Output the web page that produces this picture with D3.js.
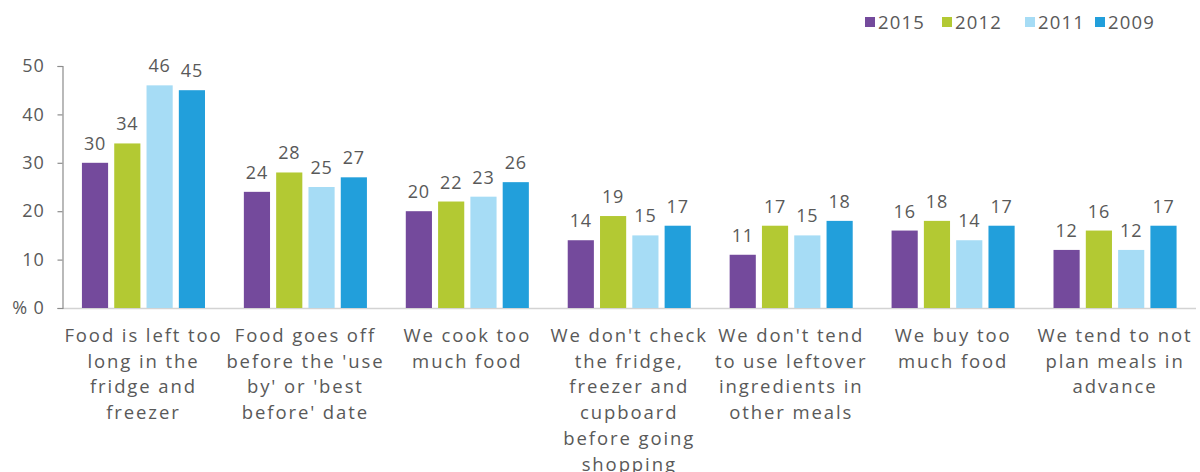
<!DOCTYPE html>
<html>
<head>
<meta charset="utf-8">
<script src="https://cdn.jsdelivr.net/npm/d3@7/dist/d3.min.js"></script>
<style>
  html, body { margin: 0; padding: 0; background: #ffffff; }
  svg { display: block; }
  text { font-family: "Open Sans", "Noto Sans", sans-serif; fill: #595959; }
</style>
</head>
<body>
<svg id="chart" width="1200" height="472"></svg>
<script>
// Reasons given for throwing food away, % of respondents by survey year
const categories = [
  ["Food is left too", "long in the", "fridge and", "freezer"],
  ["Food goes off", "before the 'use", "by' or 'best", "before' date"],
  ["We cook too", "much food"],
  ["We don't check", "the fridge,", "freezer and", "cupboard", "before going", "shopping"],
  ["We don't tend", "to use leftover", "ingredients in", "other meals"],
  ["We buy too", "much food"],
  ["We tend to not", "plan meals in", "advance"]
];
const years = ["2015", "2012", "2011", "2009"];
const values2015 = [30, 24, 20, 14, 11, 16, 12];
const values2012 = [34, 28, 22, 19, 17, 18, 16];
const values2011 = [46, 25, 23, 15, 15, 14, 12];
const values2009 = [45, 27, 26, 17, 18, 17, 17];
const yTicks = [0, 10, 20, 30, 40, 50];
const colors = ["#744a9c", "#b3c933", "#a6dcf5", "#229fdb"];

const series = [values2015, values2012, values2011, values2009];
const svg = d3.select("#chart");

const x0 = d3.scaleBand()
  .domain(d3.range(categories.length))
  .range([62.5, 1196])
  .paddingInner(0.24)
  .paddingOuter(0.12);

const x1 = d3.scaleBand()
  .domain(years)
  .range([0, x0.bandwidth()])
  .paddingInner(0.19)
  .paddingOuter(0);

const y = d3.scaleLinear().domain([0, 50]).range([308, 66]);
const color = d3.scaleOrdinal().domain(years).range(colors);

// Category baseline
svg.append("line")
  .attr("x1", 62).attr("x2", 1196)
  .attr("y1", y(0) + 0.5).attr("y2", y(0) + 0.5)
  .attr("stroke", "#d3d3d3").attr("stroke-width", 1.5);

// Value axis
const yAxis = d3.axisLeft(y)
  .tickValues(yTicks)
  .tickSize(5)
  .tickPadding(13)
  .tickFormat(d => d === 0 ? "% 0" : d);

const gy = svg.append("g")
  .attr("transform", "translate(62.5,0)")
  .call(yAxis);
gy.select(".domain").attr("stroke", "#8c8c8c").attr("stroke-width", 1.2);
gy.selectAll(".tick line").attr("stroke", "#8c8c8c").attr("stroke-width", 1.2);
gy.selectAll(".tick text")
  .attr("font-family", "'Open Sans', sans-serif")
  .attr("font-size", 18)
  .attr("fill", "#595959")
  .attr("letter-spacing", 0.8);

// Bars grouped by category
const groups = svg.append("g").selectAll("g")
  .data(categories)
  .join("g")
  .attr("transform", (d, i) => `translate(${x0(i)},0)`);

groups.each(function (cat, ci) {
  const g = d3.select(this);
  years.forEach((yr, si) => {
    const v = series[si][ci];
    g.append("rect")
      .attr("x", x1(yr))
      .attr("y", y(v))
      .attr("width", x1.bandwidth())
      .attr("height", y(0) - y(v))
      .attr("fill", color(yr));
    g.append("text")
      .attr("x", x1(yr) + x1.bandwidth() / 2)
      .attr("y", y(v) - 13)
      .attr("text-anchor", "middle")
      .attr("font-size", 18)
      .attr("letter-spacing", 0.8)
      .text(v);
  });

  // Wrapped category label
  const t = g.append("text")
    .attr("text-anchor", "middle")
    .attr("font-size", 18.5)
    .attr("letter-spacing", 1.9);
  cat.forEach((line, li) => {
    t.append("tspan")
      .attr("x", x0.bandwidth() / 2)
      .attr("y", 342 + li * 25.7)
      .text(line);
  });
});

// Legend
const legend = svg.append("g");
const legendX = [865, 942, 1025, 1095];
years.forEach((yr, i) => {
  const lg = legend.append("g").attr("transform", `translate(${legendX[i]},0)`);
  lg.append("rect")
    .attr("x", 0).attr("y", 17)
    .attr("width", 10).attr("height", 10)
    .attr("fill", color(yr));
  lg.append("text")
    .attr("x", 13).attr("y", 29)
    .attr("font-size", 18.5)
    .attr("letter-spacing", 1.2)
    .attr("fill", "#404040")
    .text(yr);
});
</script>
</body>
</html>
